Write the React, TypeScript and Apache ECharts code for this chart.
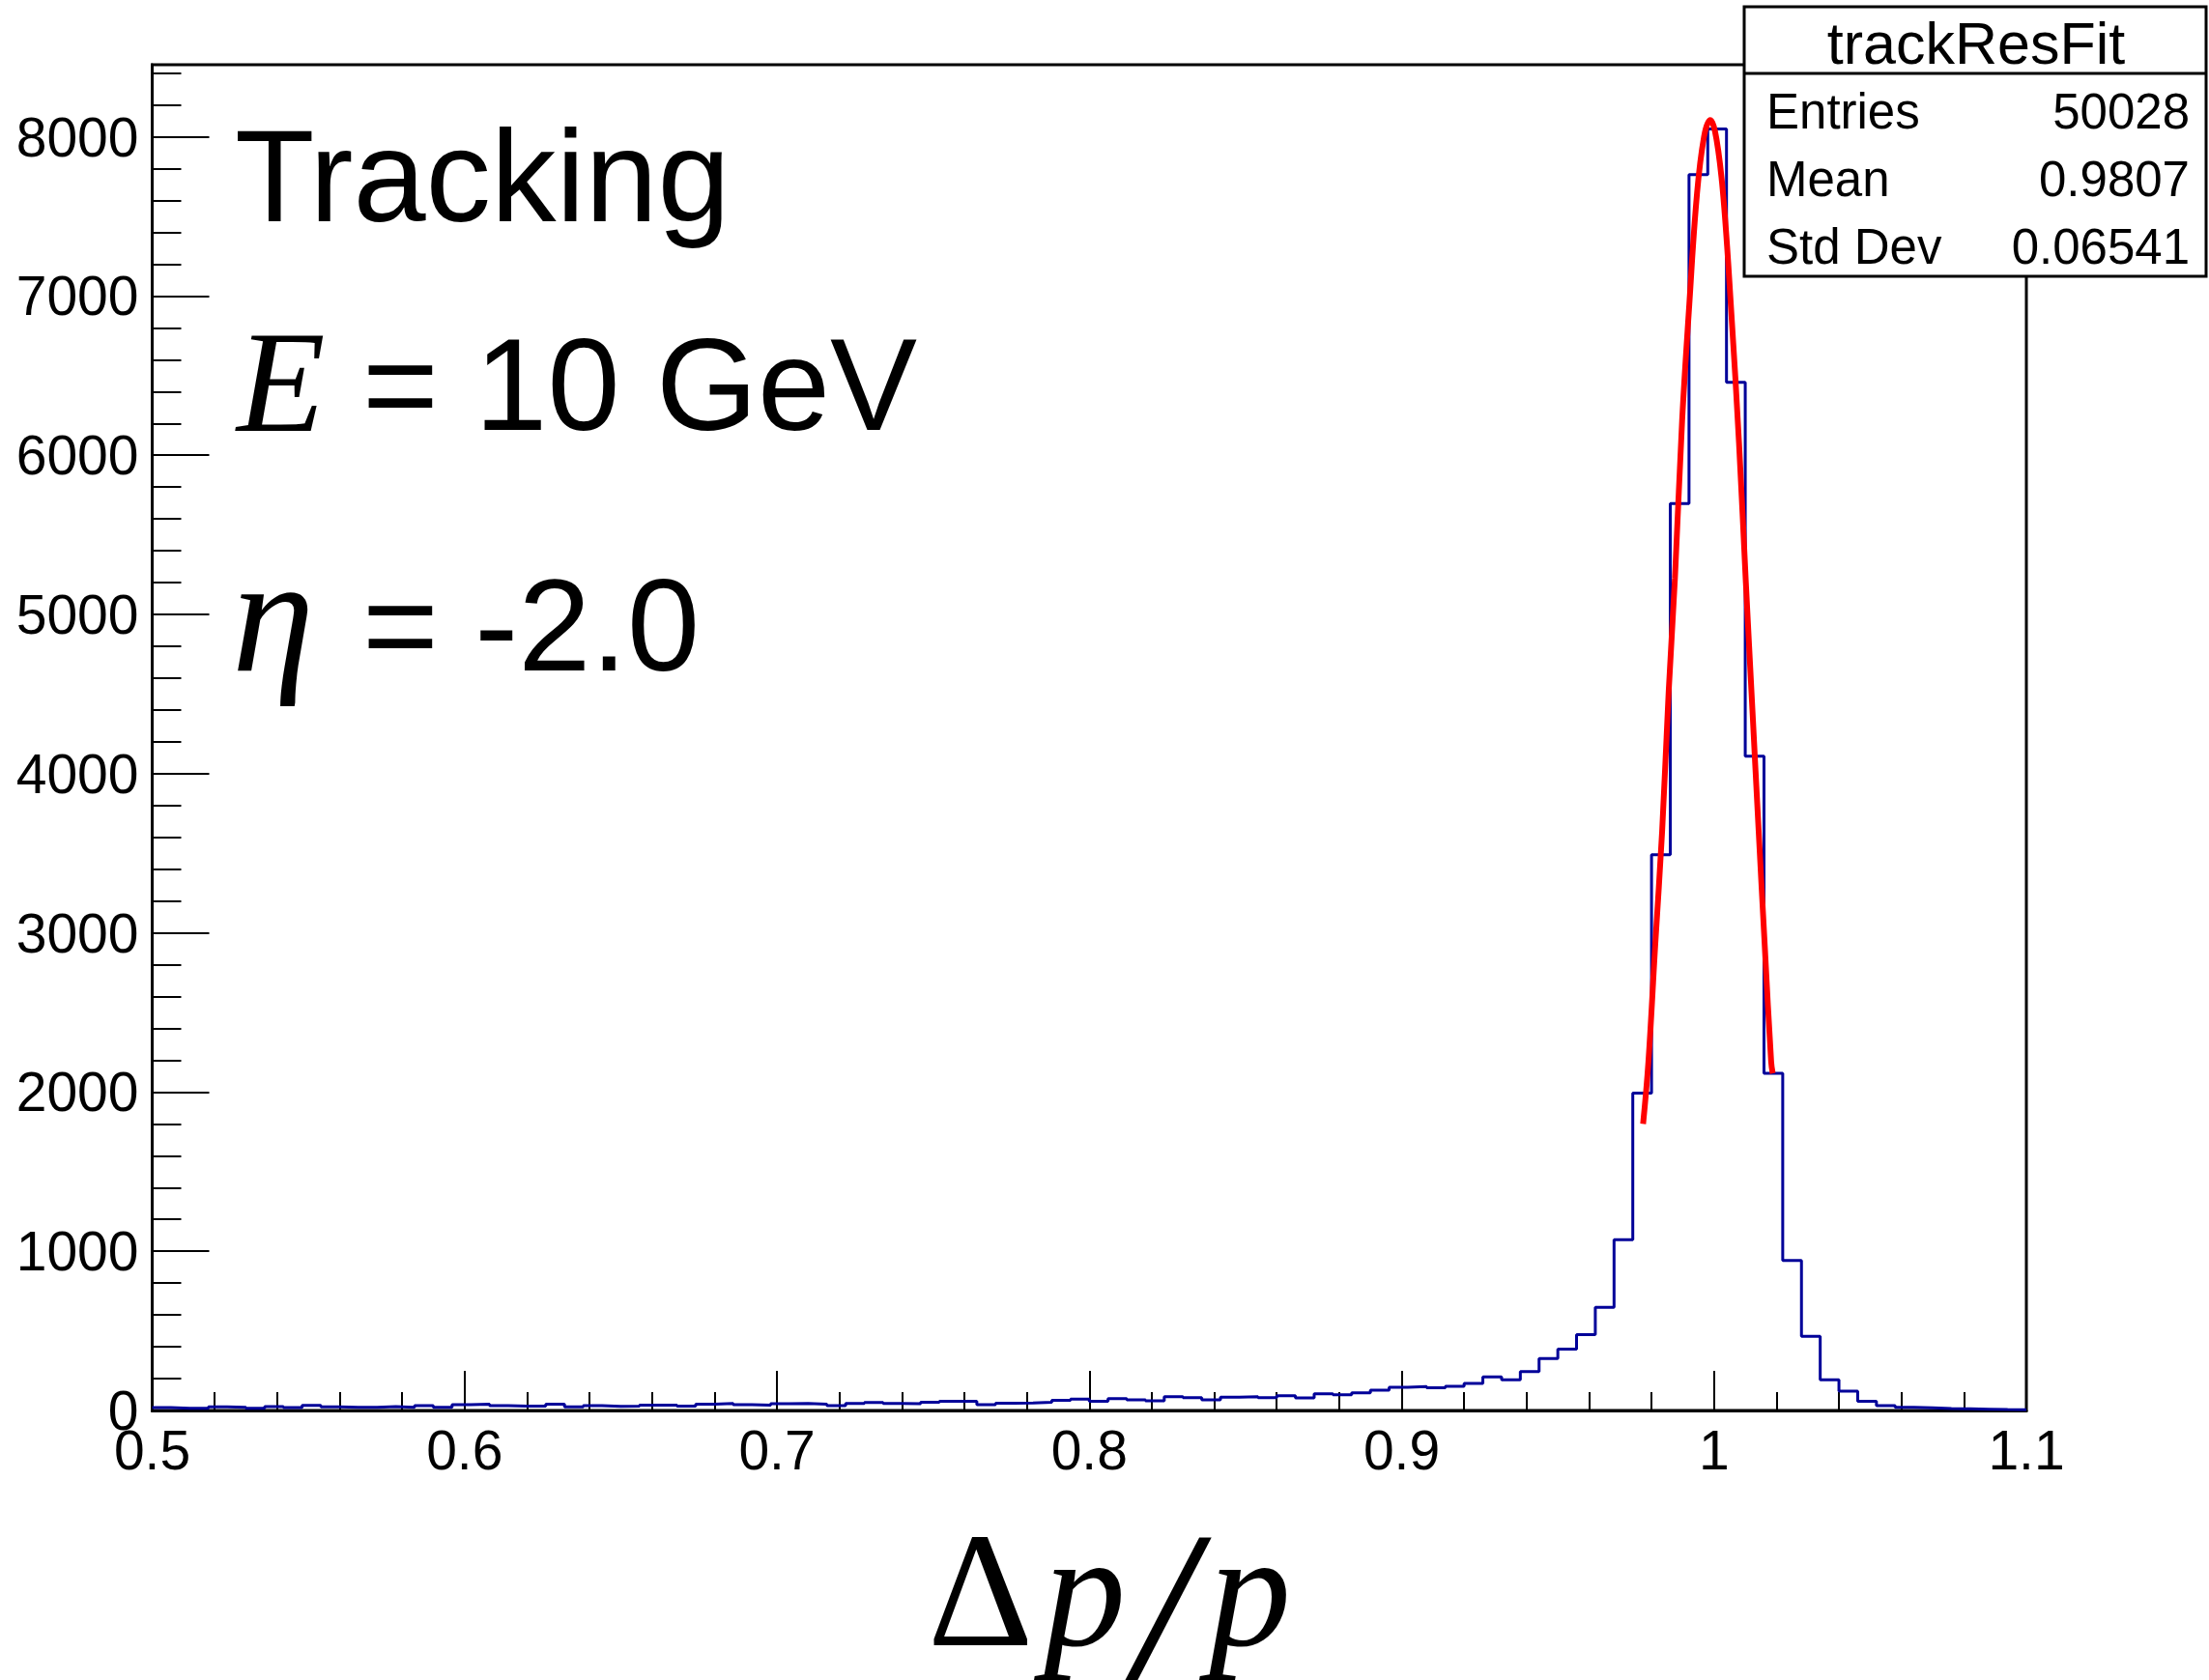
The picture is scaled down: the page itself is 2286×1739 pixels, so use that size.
import React, { useEffect, useRef } from "react";
import * as echarts from "echarts";

// ---- Histogram definition (100 bins from 0.5 to 1.1) ----
const X_MIN = 0.5;
const X_MAX = 1.1;
const BIN_WIDTH = 0.006;
const Y_MAX = 8453;

const binCounts = [
  18, 14, 14, 22, 20, 14, 24, 18, 32, 22,
  20, 20, 24, 20, 30, 20, 36, 40, 30, 28,
  28, 40, 22, 30, 26, 28, 34, 34, 28, 40,
  44, 36, 34, 42, 44, 40, 30, 44, 50, 44,
  42, 52, 58, 58, 36, 46, 47, 51, 63, 71,
  57, 75, 67, 61, 87, 81, 67, 83, 87, 81,
  93, 79, 105, 99, 111, 128, 146, 150, 142, 152,
  170, 211, 192, 245, 326, 385, 476, 648, 1073, 1994,
  3490, 5697, 7763, 8050, 6458, 4110, 2118, 942, 466, 192,
  122, 57, 30, 20, 16, 12, 10, 8, 6, 5,
];

// ---- Fit curve, points ----
const fitX = [
  0.9773, 0.979, 0.9812, 0.9834, 0.9855, 0.9875, 0.9898, 0.9921, 0.9945, 0.9968,
  0.9988, 1.0008, 1.003, 1.0056, 1.008, 1.0102, 1.0123, 1.0143, 1.0163, 1.0183, 1.0188,
];
const fitY = [
  1800, 2190, 2930, 3640, 4520, 5230, 6220, 6950, 7630, 8000,
  8105, 7985, 7620, 6880, 6080, 5200, 4400, 3640, 2900, 2190, 2117,
];

// ---- Texts ----
const statsTitle = "trackResFit";
const statsNames = ["Entries", "Mean", "Std Dev"];
const statsValues = ["50028", "0.9807", "0.06541"];

const SANS = "Liberation Sans";
const SERIF = "Liberation Serif";

export default function App() {
  const ref = useRef<HTMLDivElement>(null);

  useEffect(() => {
    if (!ref.current) return;
    const chart = echarts.init(ref.current, undefined, { renderer: "svg" });

    const histData: number[][] = binCounts.map((v, i) => [
      Number((X_MIN + i * BIN_WIDTH).toFixed(4)),
      v,
    ]);
    histData.push([X_MAX, binCounts[binCounts.length - 1]]);
    const fitData = fitX.map((x, i) => [x, fitY[i]]);

    const tickLine = { color: "#000", width: 2 };

    const statsGraphics: any[] = [
      {
        type: "rect",
        z: 100,
        shape: { x: 1805, y: 7, width: 478, height: 279 },
        style: { fill: "#fff", stroke: "#000", lineWidth: 3 },
      },
      {
        type: "line",
        z: 101,
        shape: { x1: 1805, y1: 76, x2: 2283, y2: 76 },
        style: { stroke: "#000", lineWidth: 3 },
      },
      {
        type: "text",
        z: 101,
        x: 2045,
        y: 45,
        style: {
          text: statsTitle,
          fontFamily: SANS,
          fontSize: 61,
          fill: "#000",
          align: "center",
          verticalAlign: "middle",
        },
      },
    ];
    statsNames.forEach((name, i) => {
      const y = 115 + i * 70;
      statsGraphics.push({
        type: "text",
        z: 101,
        x: 1828,
        y,
        style: { text: name, fontFamily: SANS, fontSize: 51, fill: "#000", align: "left", verticalAlign: "middle" },
      });
      statsGraphics.push({
        type: "text",
        z: 101,
        x: 2266,
        y,
        style: { text: statsValues[i], fontFamily: SANS, fontSize: 51, fill: "#000", align: "right", verticalAlign: "middle" },
      });
    });

    const labelGraphics: any[] = [
      {
        type: "text",
        x: 243,
        y: 182,
        style: { text: "Tracking", fontFamily: SANS, fontSize: 135, fill: "#000", align: "left", verticalAlign: "middle" },
      },
      {
        type: "text",
        x: 245,
        y: 395,
        style: { text: "E", fontFamily: SERIF, fontStyle: "italic", fontSize: 150, fill: "#000", align: "left", verticalAlign: "middle" },
      },
      {
        type: "text",
        x: 375,
        y: 398,
        style: { text: "= 10 GeV", fontFamily: SANS, fontSize: 135, fill: "#000", align: "left", verticalAlign: "middle" },
      },
      {
        type: "text",
        x: 240,
        y: 636,
        style: { text: "η", fontFamily: SERIF, fontStyle: "italic", fontSize: 172, fill: "#000", align: "left", verticalAlign: "middle" },
      },
      {
        type: "text",
        x: 375,
        y: 647,
        style: { text: "= -2.0", fontFamily: SANS, fontSize: 135, fill: "#000", align: "left", verticalAlign: "middle" },
      },
      // x-axis title  Δp/p
      {
        type: "text",
        x: 960,
        y: 1646,
        style: { text: "Δ", fontFamily: SERIF, fontSize: 170, fill: "#000", align: "left", verticalAlign: "middle" },
      },
      {
        type: "text",
        x: 1080,
        y: 1646,
        style: { text: "p", fontFamily: SERIF, fontStyle: "italic", fontSize: 170, fill: "#000", align: "left", verticalAlign: "middle" },
      },
      {
        type: "text",
        x: 1202,
        y: 1669,
        style: { text: "/", fontFamily: SERIF, fontStyle: "italic", fontSize: 240, fill: "#000", align: "center", verticalAlign: "middle" },
      },
      {
        type: "text",
        x: 1251,
        y: 1646,
        style: { text: "p", fontFamily: SERIF, fontStyle: "italic", fontSize: 170, fill: "#000", align: "left", verticalAlign: "middle" },
      },
    ];

    const option: any = {
      animation: false,
      backgroundColor: "#fff",
      grid: {
        left: 157.5,
        top: 67,
        width: 1939.5,
        height: 1393,
        show: true,
        borderColor: "#000",
        borderWidth: 3,
        backgroundColor: "transparent",
        containLabel: false,
        outerBoundsMode: "none",
      },
      xAxis: {
        type: "value",
        min: X_MIN,
        max: X_MAX,
        interval: 0.1,
        axisLine: { show: true, onZero: false, lineStyle: { color: "#000", width: 3 } },
        axisTick: { show: true, inside: true, length: 41, lineStyle: tickLine },
        minorTick: { show: true, splitNumber: 5, length: 19, lineStyle: tickLine },
        axisLabel: {
          color: "#000",
          fontFamily: SANS,
          fontSize: 57,
          margin: 12,
          showMinLabel: true,
          showMaxLabel: true,
          formatter: (v: number) => String(Math.round(v * 10) / 10),
        },
        splitLine: { show: false },
        minorSplitLine: { show: false },
      },
      yAxis: [
        {
          type: "value",
          position: "left",
          min: 0,
          max: Y_MAX,
          interval: 1000,
          axisLine: { show: true, onZero: false, lineStyle: { color: "#000", width: 3 } },
          axisTick: { show: true, inside: true, length: 59, lineStyle: tickLine },
          axisLabel: {
            color: "#000",
            fontFamily: SANS,
            fontSize: 57,
            margin: 14,
            showMaxLabel: false,
            formatter: (v: number) => String(Math.round(v)),
          },
          splitLine: { show: false },
        },
        {
          type: "value",
          position: "left",
          offset: 0,
          min: 0,
          max: Y_MAX,
          interval: 200,
          axisLine: { show: false },
          axisTick: { show: true, inside: true, length: 30, lineStyle: tickLine },
          axisLabel: { show: false },
          splitLine: { show: false },
        },
      ],
      series: [
        {
          type: "line",
          name: "hist",
          xAxisIndex: 0,
          yAxisIndex: 0,
          data: histData,
          step: "end",
          symbol: "none",
          lineStyle: { color: "#000099", width: 3 },
          z: 3,
        },
        {
          type: "line",
          name: "fit",
          xAxisIndex: 0,
          yAxisIndex: 0,
          data: fitData,
          smooth: 0.4,
          symbol: "none",
          lineStyle: { color: "#ff0000", width: 6 },
          z: 4,
        },
      ],
      graphic: [...labelGraphics, ...statsGraphics],
    };

    chart.setOption(option);
    return () => {
      chart.dispose();
    };
  }, []);

  return (
    <div
      ref={ref}
      style={{ position: "absolute", left: 0, top: 0, width: 2286, height: 1739, background: "#fff" }}
    />
  );
}
